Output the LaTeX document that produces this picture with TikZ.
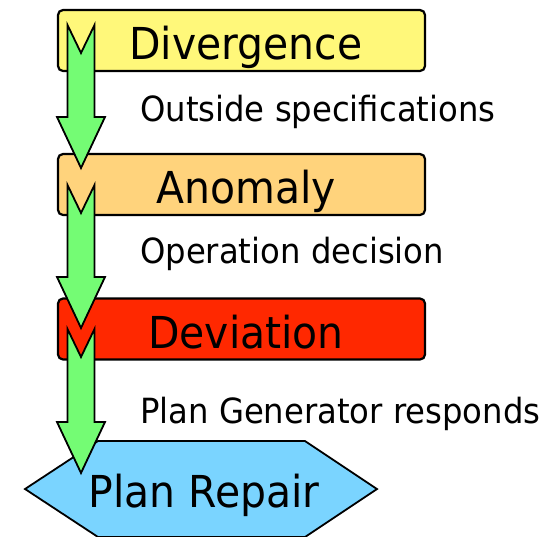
\documentclass[tikz,border=0pt]{standalone}
\usepackage{fontspec}
\setmainfont{DejaVu Sans}[FakeStretch=0.93]
\usetikzlibrary{calc}
\definecolor{boxyellow}{HTML}{FFF87A}
\definecolor{boxorange}{HTML}{FFD37C}
\definecolor{boxred}{HTML}{FF2800}
\definecolor{arrowgreen}{HTML}{74FC74}
\definecolor{hexblue}{HTML}{7AD4FF}
\newcommand\greenarrow[2]{%
  \draw[garrow] let \p1=(#1), \p2=(#2) in
    (\x1-13.5pt,\y1) -- (\x1,\y1-28pt) -- (\x1+13.5pt,\y1)
    -- (\x1+13.5pt,\y2+51pt) -- (\x1+24pt,\y2+51pt) -- (\x2,\y2)
    -- (\x1-24pt,\y2+51pt) -- (\x1-13.5pt,\y2+51pt) -- cycle;}
\begin{document}
\begin{tikzpicture}[x=1pt,y=-1pt,
  stagebox/.style={draw=black, line width=2.2pt, rounded corners=5pt,
    minimum width=367pt, minimum height=61pt, inner sep=0pt,
    text height=38pt, text depth=0pt,
    font=\fontsize{44}{44}\selectfont},
  note/.style={anchor=base west, inner sep=0pt, font=\fontsize{34.7}{34.7}\selectfont},
  garrow/.style={draw=black, fill=arrowgreen, line width=1.8pt, line join=miter}]
\useasboundingbox (0,0) rectangle (559,536);
% stages
\node[stagebox, fill=boxyellow] (div) at (241.5,40.5) {\hspace*{9pt}Divergence};
\node[stagebox, fill=boxorange] (ano) at (241.5,184.5) {\hspace*{9pt}Anomaly};
\node[stagebox, fill=boxred] (dev) at (241.5,329) {\hspace*{9pt}Deviation};
% hexagon
\draw[line width=1.8pt, fill=hexblue, line join=miter]
  (25,489) -- (98,441) -- (305,441) -- (377,489) -- (305,537) -- (98,537) -- cycle;
% arrows
\coordinate (a1top) at (81,25);  \coordinate (a1tip) at (81,168);
\coordinate (a2top) at (81,185); \coordinate (a2tip) at (81,328);
\coordinate (a3top) at (81,329); \coordinate (a3tip) at (81,473);
\greenarrow{a1top}{a1tip}
\greenarrow{a2top}{a2tip}
\greenarrow{a3top}{a3tip}
% labels
\node[note] (l1) at (140,121) {Outside specifications};
\node[note] (l2) at (140,263) {Operation decision};
\node[note] (l3) at (140,423) {Plan Generator responds};
\node[anchor=base, inner sep=0pt, font=\fontsize{44}{44}\selectfont] (pr) at (204,507) {Plan Repair};
\end{tikzpicture}
\end{document}
